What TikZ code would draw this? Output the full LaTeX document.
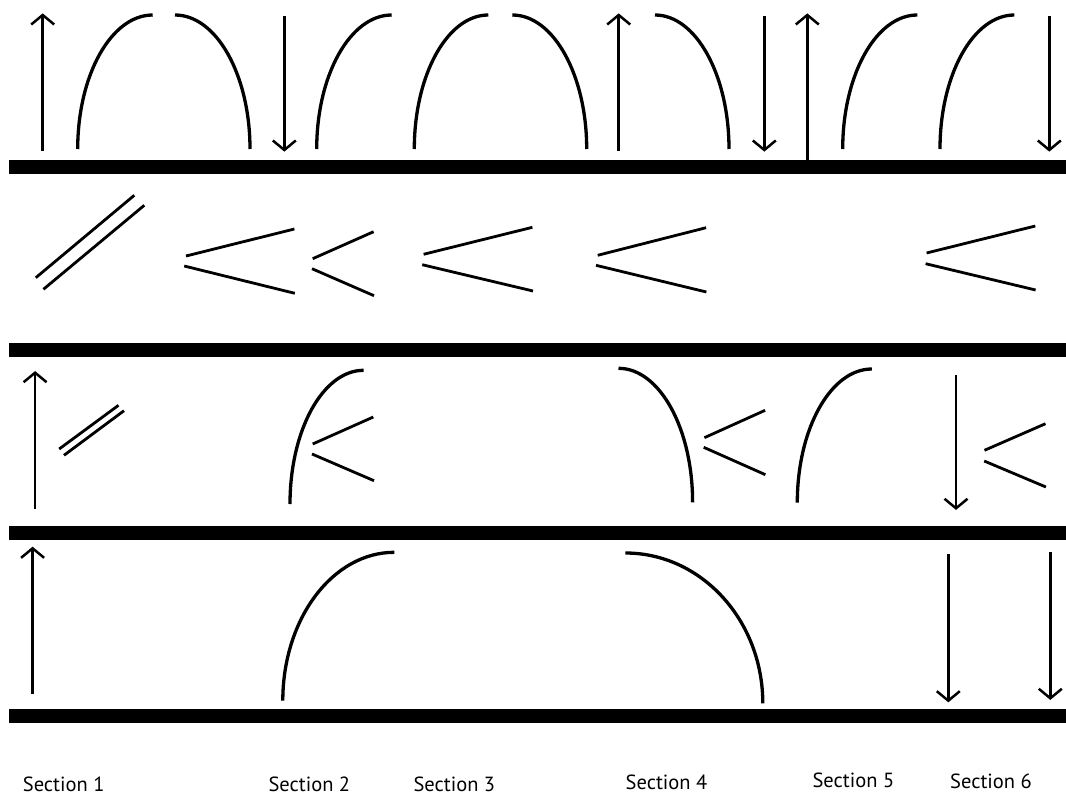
\documentclass[tikz,border=0pt]{standalone}
\usepackage{fontspec}
\newfontfamily\labfont{PT Sans}
\tikzset{
  bar/.style={fill=black, draw=none},
  arcline/.style={draw=black, line width=3.3pt},
  thinline/.style={draw=black, line width=2.8pt},
  arrowline/.style={draw=black, line width=2.5pt, line join=miter},
  uptip/.pic={\draw[arrowline] (-11.5,9.5) -- (0,0) -- (11.5,9.5);},
  dntip/.pic={\draw[arrowline] (-11.5,-9.5) -- (0,0) -- (11.5,-9.5);},
  lab/.style={anchor=base west, inner sep=0pt, font=\labfont\fontsize{20.5}{24}\selectfont}
}
% rising arc "(" : from bottom (x0,yb) to top (x1,yt)
\newcommand\larcdraw[4]{\draw[arcline] (#1,#2) .. controls (#1,{#2-0.5523*(#2-#4)}) and ({#3-0.5523*(#3-#1)},#4) .. (#3,#4);}
% falling arc ")" : from top (x0,yt) to bottom (x1,yb)
\newcommand\rarcdraw[4]{\draw[arcline] (#1,#2) .. controls ({#1+0.5523*(#3-#1)},#2) and (#3,{#4-0.5523*(#4-#2)}) .. (#3,#4);}
\newcommand\uparrowdraw[3]{\draw[arrowline] (#1,#2) -- (#1,#3); \pic at (#1,#3) {uptip};}
\newcommand\dnarrowdraw[3]{\draw[arrowline] (#1,#2) -- (#1,#3); \pic at (#1,#3) {dntip};}
\begin{document}
\begin{tikzpicture}[x=1pt, y=-1pt]
\useasboundingbox (0,0) rectangle (1066,795);
\fill[white] (0,0) rectangle (1066,795);

% bars
\fill[bar] (8.5,160) rectangle (1066,174);
\fill[bar] (8.5,342.5) rectangle (1066,357);
\fill[bar] (8.5,526) rectangle (1066,540);
\fill[bar] (8.5,709) rectangle (1066,723);

% ---------- row 1 ----------
\uparrowdraw{42.7}{151}{15}
\larcdraw{77.7}{149}{152.7}{15}
\rarcdraw{175}{15}{250}{149}
\dnarrowdraw{284.3}{15.7}{150}
\larcdraw{316.7}{149}{391.7}{15}
\larcdraw{414.3}{149}{488.3}{15}
\rarcdraw{512.3}{15}{586.7}{149}
\uparrowdraw{618.7}{151}{15}
\rarcdraw{655}{15}{729}{149}
\dnarrowdraw{764.3}{15.7}{150}
\uparrowdraw{807.3}{160}{15}
\larcdraw{842.7}{149}{917.3}{15}
\larcdraw{940}{149}{1014.3}{15}
\dnarrowdraw{1049.3}{15.7}{150}

% ---------- row 2 ----------
\draw[thinline] (35.8,277.7) -- (134.3,195.3);
\draw[thinline] (43.4,289.3) -- (144.3,205.3);
\draw[thinline] (186,256) -- (294.4,229);
\draw[thinline] (184.2,266) -- (294.8,293.3);
\draw[thinline] (312.7,258.7) -- (373.6,231.7);
\draw[thinline] (312,268.7) -- (374,295.7);
\draw[thinline] (423.6,254.3) -- (532.4,227.3);
\draw[thinline] (422.2,264.7) -- (533,291);
\draw[thinline] (597.7,255.3) -- (706.1,227.7);
\draw[thinline] (596,265.3) -- (706.4,292);
\draw[thinline] (926.6,253) -- (1035.3,226);
\draw[thinline] (925.6,263.7) -- (1035.6,290);

% ---------- row 3 ----------
\uparrowdraw{35.1}{509.3}{372.7}
\draw[thinline] (59.2,449) -- (118.5,405.3);
\draw[thinline] (64,455.3) -- (124,410.7);
\larcdraw{290}{504}{363.6}{370.3}
\draw[thinline] (312.7,444) -- (373.3,417);
\draw[thinline] (312,454) -- (374,480.7);
\rarcdraw{618.5}{368.3}{692.6}{502.3}
\draw[thinline] (704.4,437.7) -- (765.1,410.3);
\draw[thinline] (703.7,447.3) -- (765.4,474.7);
\larcdraw{797.3}{502.7}{871.8}{369}
\dnarrowdraw{956}{375}{508.3}
\draw[thinline] (984.5,450.3) -- (1045.5,423.7);
\draw[thinline] (984.2,461) -- (1045.9,487);

% ---------- row 4 ----------
\uparrowdraw{32.6}{694.3}{548.3}
\larcdraw{282.8}{700.7}{394.3}{552.3}
\rarcdraw{625.4}{553}{762.8}{703.3}
\dnarrowdraw{948.3}{554}{700.7}
\dnarrowdraw{1050.3}{552.3}{698.3}

% ---------- labels ----------
\node[lab] (s1) at (22.7,791) {Section 1};
\node[lab] (s2) at (268.3,791) {Section 2};
\node[lab] (s3) at (413.3,791) {Section 3};
\node[lab] (s4) at (625.5,789.5) {Section 4};
\node[lab] (s5) at (812.4,787.5) {Section 5};
\node[lab] (s6) at (950,788.5) {Section 6};
\end{tikzpicture}
\end{document}
